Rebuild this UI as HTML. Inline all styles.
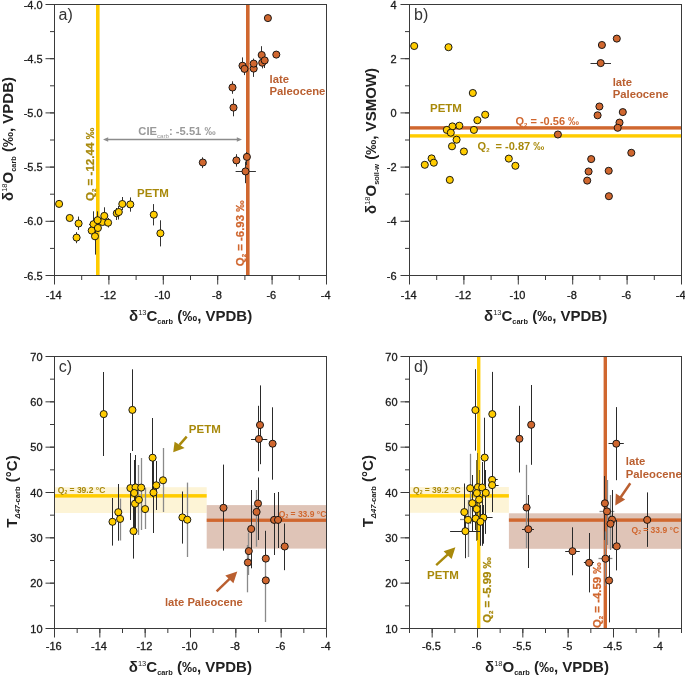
<!DOCTYPE html>
<html><head><meta charset="utf-8"><title>Figure</title>
<style>html,body{margin:0;padding:0;background:#fff;width:685px;height:676px;overflow:hidden;position:relative;font-family:"Liberation Sans", sans-serif;}</style>
</head><body>
<svg width="685" height="676" viewBox="0 0 685 676" style="position:absolute;left:0;top:0;will-change:transform" font-family='"Liberation Sans", sans-serif'>
<rect x="0.00" y="0.00" width="685.00" height="676.00" fill="#ffffff"/>
<rect x="96.00" y="4.30" width="3.60" height="271.20" fill="#FFCC00"/>
<rect x="246.00" y="4.30" width="3.60" height="271.20" fill="#D0672F"/>
<line x1="107.00" y1="139.50" x2="238.00" y2="139.50" stroke="#8c8c8c" stroke-width="1.5"/>
<path d="M103,139.5 L108.2,137.2 L108.2,141.8 Z" fill="#8c8c8c"/>
<path d="M242,139.5 L236.8,137.2 L236.8,141.8 Z" fill="#8c8c8c"/>
<text x="138.30" y="134.70" font-size="11.2" text-anchor="start" font-weight="bold" fill="#999999" >CIE<tspan font-size="6.2" font-weight="normal" dy="3">carb</tspan><tspan dy="-3">: -5.51 ‰</tspan></text>
<line x1="78.50" y1="216.60" x2="78.50" y2="229.90" stroke="#333" stroke-width="1"/>
<line x1="76.50" y1="232.10" x2="76.50" y2="243.20" stroke="#333" stroke-width="1"/>
<line x1="93.50" y1="211.30" x2="93.50" y2="230.00" stroke="#333" stroke-width="1"/>
<line x1="89.00" y1="224.50" x2="96.00" y2="224.50" stroke="#333" stroke-width="1"/>
<line x1="97.50" y1="211.30" x2="97.50" y2="226.00" stroke="#333" stroke-width="1"/>
<line x1="104.50" y1="207.30" x2="104.50" y2="222.00" stroke="#333" stroke-width="1"/>
<line x1="108.50" y1="218.00" x2="108.50" y2="227.50" stroke="#333" stroke-width="1"/>
<line x1="95.50" y1="230.00" x2="95.50" y2="254.60" stroke="#333" stroke-width="1"/>
<line x1="116.50" y1="208.00" x2="116.50" y2="220.00" stroke="#333" stroke-width="1"/>
<line x1="118.50" y1="206.00" x2="118.50" y2="219.50" stroke="#333" stroke-width="1"/>
<line x1="122.50" y1="197.00" x2="122.50" y2="210.00" stroke="#333" stroke-width="1"/>
<line x1="130.50" y1="197.40" x2="130.50" y2="211.70" stroke="#333" stroke-width="1"/>
<line x1="153.50" y1="204.10" x2="153.50" y2="225.40" stroke="#333" stroke-width="1"/>
<line x1="160.50" y1="220.30" x2="160.50" y2="246.40" stroke="#333" stroke-width="1"/>
<line x1="261.50" y1="46.20" x2="261.50" y2="60.00" stroke="#333" stroke-width="1"/>
<line x1="262.50" y1="57.00" x2="262.50" y2="68.40" stroke="#333" stroke-width="1"/>
<line x1="264.50" y1="55.00" x2="264.50" y2="68.00" stroke="#333" stroke-width="1"/>
<line x1="253.50" y1="63.00" x2="253.50" y2="76.90" stroke="#333" stroke-width="1"/>
<line x1="253.50" y1="58.60" x2="253.50" y2="68.00" stroke="#333" stroke-width="1"/>
<line x1="242.50" y1="57.40" x2="242.50" y2="70.00" stroke="#333" stroke-width="1"/>
<line x1="244.50" y1="64.00" x2="244.50" y2="75.10" stroke="#333" stroke-width="1"/>
<line x1="232.50" y1="81.30" x2="232.50" y2="93.80" stroke="#333" stroke-width="1"/>
<line x1="233.50" y1="98.70" x2="233.50" y2="116.30" stroke="#333" stroke-width="1"/>
<line x1="202.50" y1="157.30" x2="202.50" y2="168.10" stroke="#333" stroke-width="1"/>
<line x1="236.50" y1="154.20" x2="236.50" y2="166.60" stroke="#333" stroke-width="1"/>
<line x1="246.50" y1="152.00" x2="246.50" y2="165.00" stroke="#333" stroke-width="1"/>
<line x1="245.50" y1="161.50" x2="245.50" y2="183.20" stroke="#333" stroke-width="1"/>
<line x1="235.60" y1="171.50" x2="255.90" y2="171.50" stroke="#333" stroke-width="1"/>
<circle cx="59.10" cy="203.90" r="3.55" fill="#FFCC00" stroke="#111" stroke-width="0.95"/>
<circle cx="69.70" cy="218.00" r="3.55" fill="#FFCC00" stroke="#111" stroke-width="0.95"/>
<circle cx="78.60" cy="223.50" r="3.55" fill="#FFCC00" stroke="#111" stroke-width="0.95"/>
<circle cx="76.60" cy="237.60" r="3.55" fill="#FFCC00" stroke="#111" stroke-width="0.95"/>
<circle cx="102.50" cy="222.00" r="3.55" fill="#FFCC00" stroke="#111" stroke-width="0.95"/>
<circle cx="93.50" cy="224.20" r="3.55" fill="#FFCC00" stroke="#111" stroke-width="0.95"/>
<circle cx="97.60" cy="220.20" r="3.55" fill="#FFCC00" stroke="#111" stroke-width="0.95"/>
<circle cx="104.30" cy="215.90" r="3.55" fill="#FFCC00" stroke="#111" stroke-width="0.95"/>
<circle cx="108.10" cy="222.70" r="3.55" fill="#FFCC00" stroke="#111" stroke-width="0.95"/>
<circle cx="91.70" cy="230.60" r="3.55" fill="#FFCC00" stroke="#111" stroke-width="0.95"/>
<circle cx="97.90" cy="228.00" r="3.55" fill="#FFCC00" stroke="#111" stroke-width="0.95"/>
<circle cx="95.00" cy="236.30" r="3.55" fill="#FFCC00" stroke="#111" stroke-width="0.95"/>
<circle cx="116.80" cy="213.30" r="3.55" fill="#FFCC00" stroke="#111" stroke-width="0.95"/>
<circle cx="118.80" cy="212.00" r="3.55" fill="#FFCC00" stroke="#111" stroke-width="0.95"/>
<circle cx="122.30" cy="204.00" r="3.55" fill="#FFCC00" stroke="#111" stroke-width="0.95"/>
<circle cx="130.30" cy="204.40" r="3.55" fill="#FFCC00" stroke="#111" stroke-width="0.95"/>
<circle cx="153.80" cy="214.70" r="3.55" fill="#FFCC00" stroke="#111" stroke-width="0.95"/>
<circle cx="160.40" cy="233.30" r="3.55" fill="#FFCC00" stroke="#111" stroke-width="0.95"/>
<circle cx="267.90" cy="18.10" r="3.55" fill="#D0672F" stroke="#111" stroke-width="0.95"/>
<circle cx="276.30" cy="54.60" r="3.55" fill="#D0672F" stroke="#111" stroke-width="0.95"/>
<circle cx="261.70" cy="55.00" r="3.55" fill="#D0672F" stroke="#111" stroke-width="0.95"/>
<circle cx="262.20" cy="62.70" r="3.55" fill="#D0672F" stroke="#111" stroke-width="0.95"/>
<circle cx="264.70" cy="60.40" r="3.55" fill="#D0672F" stroke="#111" stroke-width="0.95"/>
<circle cx="253.70" cy="68.60" r="3.55" fill="#D0672F" stroke="#111" stroke-width="0.95"/>
<circle cx="253.70" cy="63.60" r="3.55" fill="#D0672F" stroke="#111" stroke-width="0.95"/>
<circle cx="242.50" cy="65.70" r="3.55" fill="#D0672F" stroke="#111" stroke-width="0.95"/>
<circle cx="244.50" cy="68.90" r="3.55" fill="#D0672F" stroke="#111" stroke-width="0.95"/>
<circle cx="232.50" cy="87.50" r="3.55" fill="#D0672F" stroke="#111" stroke-width="0.95"/>
<circle cx="233.50" cy="107.60" r="3.55" fill="#D0672F" stroke="#111" stroke-width="0.95"/>
<circle cx="202.80" cy="162.50" r="3.55" fill="#D0672F" stroke="#111" stroke-width="0.95"/>
<circle cx="236.40" cy="160.40" r="3.55" fill="#D0672F" stroke="#111" stroke-width="0.95"/>
<circle cx="246.90" cy="156.90" r="3.55" fill="#D0672F" stroke="#111" stroke-width="0.95"/>
<circle cx="245.50" cy="171.40" r="3.55" fill="#D0672F" stroke="#111" stroke-width="0.95"/>
<text x="137.00" y="197.20" font-size="11.5" text-anchor="start" font-weight="bold" fill="#A8890B" >PETM</text>
<text x="269.50" y="82.80" font-size="11.3" text-anchor="start" font-weight="bold" fill="#BA5F30" >late</text>
<text x="269.50" y="95.20" font-size="11.3" text-anchor="start" font-weight="bold" fill="#BA5F30" >Paleocene</text>
<text transform="translate(93.6,164.4) rotate(-90)" font-size="11.6" font-weight="bold" text-anchor="middle" fill="#A8890B" stroke="#A8890B" stroke-width="0.25">Q<tspan font-size="6" dy="2">2</tspan><tspan dy="-2"> = -12.44 ‰</tspan></text>
<text transform="translate(244.3,233.3) rotate(-90)" font-size="11.4" font-weight="bold" text-anchor="middle" fill="#D0672F" stroke="#D0672F" stroke-width="0.25">Q<tspan font-size="6" dy="2">2</tspan><tspan dy="-2"> = -6.93 ‰</tspan></text>
<rect x="54.50" y="4.50" width="272.00" height="271.00" fill="none" stroke="#3a3a3a" stroke-width="1"/>
<line x1="54.50" y1="275.50" x2="54.50" y2="280.00" stroke="#3a3a3a" stroke-width="1"/>
<line x1="81.70" y1="275.50" x2="81.70" y2="280.00" stroke="#3a3a3a" stroke-width="1"/>
<line x1="108.90" y1="275.50" x2="108.90" y2="280.00" stroke="#3a3a3a" stroke-width="1"/>
<line x1="136.10" y1="275.50" x2="136.10" y2="280.00" stroke="#3a3a3a" stroke-width="1"/>
<line x1="163.30" y1="275.50" x2="163.30" y2="280.00" stroke="#3a3a3a" stroke-width="1"/>
<line x1="190.50" y1="275.50" x2="190.50" y2="280.00" stroke="#3a3a3a" stroke-width="1"/>
<line x1="217.70" y1="275.50" x2="217.70" y2="280.00" stroke="#3a3a3a" stroke-width="1"/>
<line x1="244.90" y1="275.50" x2="244.90" y2="280.00" stroke="#3a3a3a" stroke-width="1"/>
<line x1="272.10" y1="275.50" x2="272.10" y2="280.00" stroke="#3a3a3a" stroke-width="1"/>
<line x1="299.30" y1="275.50" x2="299.30" y2="280.00" stroke="#3a3a3a" stroke-width="1"/>
<line x1="326.50" y1="275.50" x2="326.50" y2="280.00" stroke="#3a3a3a" stroke-width="1"/>
<line x1="54.50" y1="275.50" x2="54.50" y2="284.50" stroke="#3a3a3a" stroke-width="1"/>
<text x="53.70" y="298.90" font-size="11" text-anchor="middle" fill="#1a1a1a" stroke="#1a1a1a" stroke-width="0.3">-14</text>
<line x1="108.90" y1="275.50" x2="108.90" y2="284.50" stroke="#3a3a3a" stroke-width="1"/>
<text x="108.10" y="298.90" font-size="11" text-anchor="middle" fill="#1a1a1a" stroke="#1a1a1a" stroke-width="0.3">-12</text>
<line x1="163.30" y1="275.50" x2="163.30" y2="284.50" stroke="#3a3a3a" stroke-width="1"/>
<text x="162.50" y="298.90" font-size="11" text-anchor="middle" fill="#1a1a1a" stroke="#1a1a1a" stroke-width="0.3">-10</text>
<line x1="217.70" y1="275.50" x2="217.70" y2="284.50" stroke="#3a3a3a" stroke-width="1"/>
<text x="216.90" y="298.90" font-size="11" text-anchor="middle" fill="#1a1a1a" stroke="#1a1a1a" stroke-width="0.3">-8</text>
<line x1="272.10" y1="275.50" x2="272.10" y2="284.50" stroke="#3a3a3a" stroke-width="1"/>
<text x="271.30" y="298.90" font-size="11" text-anchor="middle" fill="#1a1a1a" stroke="#1a1a1a" stroke-width="0.3">-6</text>
<line x1="326.50" y1="275.50" x2="326.50" y2="284.50" stroke="#3a3a3a" stroke-width="1"/>
<text x="325.70" y="298.90" font-size="11" text-anchor="middle" fill="#1a1a1a" stroke="#1a1a1a" stroke-width="0.3">-4</text>
<line x1="50.00" y1="4.50" x2="54.50" y2="4.50" stroke="#3a3a3a" stroke-width="1"/>
<line x1="50.00" y1="31.60" x2="54.50" y2="31.60" stroke="#3a3a3a" stroke-width="1"/>
<line x1="50.00" y1="58.70" x2="54.50" y2="58.70" stroke="#3a3a3a" stroke-width="1"/>
<line x1="50.00" y1="85.80" x2="54.50" y2="85.80" stroke="#3a3a3a" stroke-width="1"/>
<line x1="50.00" y1="112.90" x2="54.50" y2="112.90" stroke="#3a3a3a" stroke-width="1"/>
<line x1="50.00" y1="140.00" x2="54.50" y2="140.00" stroke="#3a3a3a" stroke-width="1"/>
<line x1="50.00" y1="167.10" x2="54.50" y2="167.10" stroke="#3a3a3a" stroke-width="1"/>
<line x1="50.00" y1="194.20" x2="54.50" y2="194.20" stroke="#3a3a3a" stroke-width="1"/>
<line x1="50.00" y1="221.30" x2="54.50" y2="221.30" stroke="#3a3a3a" stroke-width="1"/>
<line x1="50.00" y1="248.40" x2="54.50" y2="248.40" stroke="#3a3a3a" stroke-width="1"/>
<line x1="50.00" y1="275.50" x2="54.50" y2="275.50" stroke="#3a3a3a" stroke-width="1"/>
<line x1="45.50" y1="4.50" x2="54.50" y2="4.50" stroke="#3a3a3a" stroke-width="1"/>
<text x="42.60" y="8.60" font-size="11" text-anchor="end" fill="#1a1a1a" stroke="#1a1a1a" stroke-width="0.3">-4.0</text>
<line x1="45.50" y1="58.70" x2="54.50" y2="58.70" stroke="#3a3a3a" stroke-width="1"/>
<text x="42.60" y="62.80" font-size="11" text-anchor="end" fill="#1a1a1a" stroke="#1a1a1a" stroke-width="0.3">-4.5</text>
<line x1="45.50" y1="112.90" x2="54.50" y2="112.90" stroke="#3a3a3a" stroke-width="1"/>
<text x="42.60" y="117.00" font-size="11" text-anchor="end" fill="#1a1a1a" stroke="#1a1a1a" stroke-width="0.3">-5.0</text>
<line x1="45.50" y1="167.10" x2="54.50" y2="167.10" stroke="#3a3a3a" stroke-width="1"/>
<text x="42.60" y="171.20" font-size="11" text-anchor="end" fill="#1a1a1a" stroke="#1a1a1a" stroke-width="0.3">-5.5</text>
<line x1="45.50" y1="221.30" x2="54.50" y2="221.30" stroke="#3a3a3a" stroke-width="1"/>
<text x="42.60" y="225.40" font-size="11" text-anchor="end" fill="#1a1a1a" stroke="#1a1a1a" stroke-width="0.3">-6.0</text>
<line x1="45.50" y1="275.50" x2="54.50" y2="275.50" stroke="#3a3a3a" stroke-width="1"/>
<text x="42.60" y="279.60" font-size="11" text-anchor="end" fill="#1a1a1a" stroke="#1a1a1a" stroke-width="0.3">-6.5</text>
<text x="58.50" y="19.80" font-size="16" text-anchor="start" font-weight="normal" fill="#333" >a)</text>
<text transform="translate(13.30,139.00) rotate(-90)" font-size="15" font-weight="bold" text-anchor="middle" fill="#222"><tspan dy="0">δ</tspan><tspan font-size="7.5" font-weight="normal" dy="-6.2">18</tspan><tspan dy="6.2">O</tspan><tspan font-size="7.4" dy="3.0">carb</tspan><tspan dy="-3.0"> (‰, VPDB)</tspan></text>
<text x="190.60" y="320.80" font-size="15" font-weight="bold" text-anchor="middle" fill="#222"><tspan dy="0">δ</tspan><tspan font-size="7.5" font-weight="normal" dy="-6.2">13</tspan><tspan dy="6.2">C</tspan><tspan font-size="7.4" dy="3.0">carb</tspan><tspan dy="-3.0"> (‰, VPDB)</tspan></text>
<rect x="409.70" y="126.20" width="271.70" height="3.40" fill="#D0672F"/>
<rect x="409.70" y="134.20" width="271.70" height="3.40" fill="#FFCC00"/>
<line x1="590.50" y1="63.50" x2="611.00" y2="63.50" stroke="#333" stroke-width="1"/>
<line x1="588.00" y1="159.50" x2="594.50" y2="159.50" stroke="#333" stroke-width="1"/>
<circle cx="414.20" cy="46.00" r="3.55" fill="#FFCC00" stroke="#111" stroke-width="0.95"/>
<circle cx="448.50" cy="47.20" r="3.55" fill="#FFCC00" stroke="#111" stroke-width="0.95"/>
<circle cx="472.80" cy="93.00" r="3.55" fill="#FFCC00" stroke="#111" stroke-width="0.95"/>
<circle cx="485.20" cy="114.70" r="3.55" fill="#FFCC00" stroke="#111" stroke-width="0.95"/>
<circle cx="477.40" cy="120.20" r="3.55" fill="#FFCC00" stroke="#111" stroke-width="0.95"/>
<circle cx="459.30" cy="125.70" r="3.55" fill="#FFCC00" stroke="#111" stroke-width="0.95"/>
<circle cx="452.40" cy="126.40" r="3.55" fill="#FFCC00" stroke="#111" stroke-width="0.95"/>
<circle cx="446.80" cy="129.90" r="3.55" fill="#FFCC00" stroke="#111" stroke-width="0.95"/>
<circle cx="450.80" cy="132.70" r="3.55" fill="#FFCC00" stroke="#111" stroke-width="0.95"/>
<circle cx="473.90" cy="129.90" r="3.55" fill="#FFCC00" stroke="#111" stroke-width="0.95"/>
<circle cx="456.60" cy="139.70" r="3.55" fill="#FFCC00" stroke="#111" stroke-width="0.95"/>
<circle cx="452.00" cy="146.30" r="3.55" fill="#FFCC00" stroke="#111" stroke-width="0.95"/>
<circle cx="463.90" cy="151.50" r="3.55" fill="#FFCC00" stroke="#111" stroke-width="0.95"/>
<circle cx="431.60" cy="158.40" r="3.55" fill="#FFCC00" stroke="#111" stroke-width="0.95"/>
<circle cx="433.80" cy="162.70" r="3.55" fill="#FFCC00" stroke="#111" stroke-width="0.95"/>
<circle cx="424.80" cy="164.80" r="3.55" fill="#FFCC00" stroke="#111" stroke-width="0.95"/>
<circle cx="449.80" cy="179.90" r="3.55" fill="#FFCC00" stroke="#111" stroke-width="0.95"/>
<circle cx="508.80" cy="158.60" r="3.55" fill="#FFCC00" stroke="#111" stroke-width="0.95"/>
<circle cx="515.40" cy="165.80" r="3.55" fill="#FFCC00" stroke="#111" stroke-width="0.95"/>
<circle cx="616.80" cy="38.60" r="3.55" fill="#D0672F" stroke="#111" stroke-width="0.95"/>
<circle cx="601.90" cy="45.00" r="3.55" fill="#D0672F" stroke="#111" stroke-width="0.95"/>
<circle cx="600.70" cy="63.10" r="3.55" fill="#D0672F" stroke="#111" stroke-width="0.95"/>
<circle cx="599.40" cy="106.50" r="3.55" fill="#D0672F" stroke="#111" stroke-width="0.95"/>
<circle cx="597.60" cy="115.30" r="3.55" fill="#D0672F" stroke="#111" stroke-width="0.95"/>
<circle cx="622.80" cy="112.10" r="3.55" fill="#D0672F" stroke="#111" stroke-width="0.95"/>
<circle cx="619.50" cy="122.60" r="3.55" fill="#D0672F" stroke="#111" stroke-width="0.95"/>
<circle cx="617.70" cy="127.80" r="3.55" fill="#D0672F" stroke="#111" stroke-width="0.95"/>
<circle cx="557.90" cy="134.50" r="3.55" fill="#D0672F" stroke="#111" stroke-width="0.95"/>
<circle cx="631.30" cy="152.80" r="3.55" fill="#D0672F" stroke="#111" stroke-width="0.95"/>
<circle cx="591.20" cy="159.10" r="3.55" fill="#D0672F" stroke="#111" stroke-width="0.95"/>
<circle cx="588.60" cy="171.50" r="3.55" fill="#D0672F" stroke="#111" stroke-width="0.95"/>
<circle cx="587.20" cy="180.60" r="3.55" fill="#D0672F" stroke="#111" stroke-width="0.95"/>
<circle cx="608.70" cy="170.80" r="3.55" fill="#D0672F" stroke="#111" stroke-width="0.95"/>
<circle cx="608.90" cy="196.20" r="3.55" fill="#D0672F" stroke="#111" stroke-width="0.95"/>
<text x="430.00" y="112.00" font-size="11.5" text-anchor="start" font-weight="bold" fill="#A8890B" >PETM</text>
<text x="612.70" y="86.00" font-size="11.3" text-anchor="start" font-weight="bold" fill="#BA5F30" >late</text>
<text x="612.70" y="98.10" font-size="11.3" text-anchor="start" font-weight="bold" fill="#BA5F30" >Paleocene</text>
<text x="515.50" y="125.00" font-size="11" text-anchor="start" font-weight="bold" fill="#D0672F" >Q<tspan font-size="6" dy="2">2</tspan><tspan dy="-2"> = -0.56 ‰</tspan></text>
<text x="477.60" y="149.80" font-size="11" text-anchor="start" font-weight="bold" fill="#A8890B" >Q<tspan font-size="6" dy="2">2</tspan><tspan dy="-2">&#160; = -0.87 ‰</tspan></text>
<rect x="409.50" y="4.50" width="272.00" height="271.00" fill="none" stroke="#3a3a3a" stroke-width="1"/>
<line x1="409.50" y1="275.50" x2="409.50" y2="280.00" stroke="#3a3a3a" stroke-width="1"/>
<line x1="436.70" y1="275.50" x2="436.70" y2="280.00" stroke="#3a3a3a" stroke-width="1"/>
<line x1="463.90" y1="275.50" x2="463.90" y2="280.00" stroke="#3a3a3a" stroke-width="1"/>
<line x1="491.10" y1="275.50" x2="491.10" y2="280.00" stroke="#3a3a3a" stroke-width="1"/>
<line x1="518.30" y1="275.50" x2="518.30" y2="280.00" stroke="#3a3a3a" stroke-width="1"/>
<line x1="545.50" y1="275.50" x2="545.50" y2="280.00" stroke="#3a3a3a" stroke-width="1"/>
<line x1="572.70" y1="275.50" x2="572.70" y2="280.00" stroke="#3a3a3a" stroke-width="1"/>
<line x1="599.90" y1="275.50" x2="599.90" y2="280.00" stroke="#3a3a3a" stroke-width="1"/>
<line x1="627.10" y1="275.50" x2="627.10" y2="280.00" stroke="#3a3a3a" stroke-width="1"/>
<line x1="654.30" y1="275.50" x2="654.30" y2="280.00" stroke="#3a3a3a" stroke-width="1"/>
<line x1="681.50" y1="275.50" x2="681.50" y2="280.00" stroke="#3a3a3a" stroke-width="1"/>
<line x1="409.50" y1="275.50" x2="409.50" y2="284.50" stroke="#3a3a3a" stroke-width="1"/>
<text x="408.70" y="298.90" font-size="11" text-anchor="middle" fill="#1a1a1a" stroke="#1a1a1a" stroke-width="0.3">-14</text>
<line x1="463.90" y1="275.50" x2="463.90" y2="284.50" stroke="#3a3a3a" stroke-width="1"/>
<text x="463.10" y="298.90" font-size="11" text-anchor="middle" fill="#1a1a1a" stroke="#1a1a1a" stroke-width="0.3">-12</text>
<line x1="518.30" y1="275.50" x2="518.30" y2="284.50" stroke="#3a3a3a" stroke-width="1"/>
<text x="517.50" y="298.90" font-size="11" text-anchor="middle" fill="#1a1a1a" stroke="#1a1a1a" stroke-width="0.3">-10</text>
<line x1="572.70" y1="275.50" x2="572.70" y2="284.50" stroke="#3a3a3a" stroke-width="1"/>
<text x="571.90" y="298.90" font-size="11" text-anchor="middle" fill="#1a1a1a" stroke="#1a1a1a" stroke-width="0.3">-8</text>
<line x1="627.10" y1="275.50" x2="627.10" y2="284.50" stroke="#3a3a3a" stroke-width="1"/>
<text x="626.30" y="298.90" font-size="11" text-anchor="middle" fill="#1a1a1a" stroke="#1a1a1a" stroke-width="0.3">-6</text>
<line x1="681.50" y1="275.50" x2="681.50" y2="284.50" stroke="#3a3a3a" stroke-width="1"/>
<text x="680.70" y="298.90" font-size="11" text-anchor="middle" fill="#1a1a1a" stroke="#1a1a1a" stroke-width="0.3">-4</text>
<line x1="405.00" y1="4.50" x2="409.50" y2="4.50" stroke="#3a3a3a" stroke-width="1"/>
<line x1="405.00" y1="31.60" x2="409.50" y2="31.60" stroke="#3a3a3a" stroke-width="1"/>
<line x1="405.00" y1="58.70" x2="409.50" y2="58.70" stroke="#3a3a3a" stroke-width="1"/>
<line x1="405.00" y1="85.80" x2="409.50" y2="85.80" stroke="#3a3a3a" stroke-width="1"/>
<line x1="405.00" y1="112.90" x2="409.50" y2="112.90" stroke="#3a3a3a" stroke-width="1"/>
<line x1="405.00" y1="140.00" x2="409.50" y2="140.00" stroke="#3a3a3a" stroke-width="1"/>
<line x1="405.00" y1="167.10" x2="409.50" y2="167.10" stroke="#3a3a3a" stroke-width="1"/>
<line x1="405.00" y1="194.20" x2="409.50" y2="194.20" stroke="#3a3a3a" stroke-width="1"/>
<line x1="405.00" y1="221.30" x2="409.50" y2="221.30" stroke="#3a3a3a" stroke-width="1"/>
<line x1="405.00" y1="248.40" x2="409.50" y2="248.40" stroke="#3a3a3a" stroke-width="1"/>
<line x1="405.00" y1="275.50" x2="409.50" y2="275.50" stroke="#3a3a3a" stroke-width="1"/>
<line x1="400.50" y1="4.50" x2="409.50" y2="4.50" stroke="#3a3a3a" stroke-width="1"/>
<text x="396.50" y="8.60" font-size="11" text-anchor="end" fill="#1a1a1a" stroke="#1a1a1a" stroke-width="0.3">4</text>
<line x1="400.50" y1="58.70" x2="409.50" y2="58.70" stroke="#3a3a3a" stroke-width="1"/>
<text x="396.50" y="62.80" font-size="11" text-anchor="end" fill="#1a1a1a" stroke="#1a1a1a" stroke-width="0.3">2</text>
<line x1="400.50" y1="112.90" x2="409.50" y2="112.90" stroke="#3a3a3a" stroke-width="1"/>
<text x="396.50" y="117.00" font-size="11" text-anchor="end" fill="#1a1a1a" stroke="#1a1a1a" stroke-width="0.3">0</text>
<line x1="400.50" y1="167.10" x2="409.50" y2="167.10" stroke="#3a3a3a" stroke-width="1"/>
<text x="396.50" y="171.20" font-size="11" text-anchor="end" fill="#1a1a1a" stroke="#1a1a1a" stroke-width="0.3">-2</text>
<line x1="400.50" y1="221.30" x2="409.50" y2="221.30" stroke="#3a3a3a" stroke-width="1"/>
<text x="396.50" y="225.40" font-size="11" text-anchor="end" fill="#1a1a1a" stroke="#1a1a1a" stroke-width="0.3">-4</text>
<line x1="400.50" y1="275.50" x2="409.50" y2="275.50" stroke="#3a3a3a" stroke-width="1"/>
<text x="396.50" y="279.60" font-size="11" text-anchor="end" fill="#1a1a1a" stroke="#1a1a1a" stroke-width="0.3">-6</text>
<text x="414.00" y="19.70" font-size="16" text-anchor="start" font-weight="normal" fill="#333" >b)</text>
<text transform="translate(375.90,141.00) rotate(-90)" font-size="15" font-weight="bold" text-anchor="middle" fill="#222"><tspan dy="0">δ</tspan><tspan font-size="7.5" font-weight="normal" dy="-6.2">18</tspan><tspan dy="6.2">O</tspan><tspan font-size="7.4" dy="3.0">soil-w</tspan><tspan dy="-3.0"> (‰, VSMOW)</tspan></text>
<text x="545.60" y="320.80" font-size="15" font-weight="bold" text-anchor="middle" fill="#222"><tspan dy="0">δ</tspan><tspan font-size="7.5" font-weight="normal" dy="-6.2">13</tspan><tspan dy="6.2">C</tspan><tspan font-size="7.4" dy="3.0">carb</tspan><tspan dy="-3.0"> (‰, VPDB)</tspan></text>
<rect x="54.50" y="487.20" width="152.20" height="25.80" fill="#FDF4D6"/>
<rect x="206.70" y="505.10" width="119.70" height="43.50" fill="#DFC4B7"/>
<rect x="54.50" y="494.10" width="152.20" height="3.50" fill="#FFCC00"/>
<rect x="206.70" y="518.60" width="119.70" height="3.30" fill="#D0672F"/>
<line x1="103.50" y1="372.00" x2="103.50" y2="456.00" stroke="#2a2a2a" stroke-width="1"/>
<line x1="132.50" y1="369.30" x2="132.50" y2="451.00" stroke="#2a2a2a" stroke-width="1"/>
<line x1="152.50" y1="418.00" x2="152.50" y2="497.00" stroke="#2a2a2a" stroke-width="1"/>
<line x1="163.50" y1="448.00" x2="163.50" y2="512.00" stroke="#8a8a8a" stroke-width="1.3"/>
<line x1="156.50" y1="461.00" x2="156.50" y2="510.00" stroke="#2a2a2a" stroke-width="1"/>
<line x1="130.50" y1="453.00" x2="130.50" y2="520.00" stroke="#2a2a2a" stroke-width="1"/>
<line x1="135.50" y1="455.00" x2="135.50" y2="525.00" stroke="#2a2a2a" stroke-width="1"/>
<line x1="141.50" y1="458.00" x2="141.50" y2="530.00" stroke="#8a8a8a" stroke-width="1.3"/>
<line x1="134.50" y1="460.00" x2="134.50" y2="530.00" stroke="#2a2a2a" stroke-width="1"/>
<line x1="135.50" y1="470.00" x2="135.50" y2="535.00" stroke="#2a2a2a" stroke-width="1"/>
<line x1="138.50" y1="465.00" x2="138.50" y2="535.00" stroke="#8a8a8a" stroke-width="1.3"/>
<line x1="145.50" y1="488.00" x2="145.50" y2="529.00" stroke="#8a8a8a" stroke-width="1.3"/>
<line x1="133.50" y1="500.00" x2="133.50" y2="558.60" stroke="#2a2a2a" stroke-width="1"/>
<line x1="153.50" y1="455.00" x2="153.50" y2="533.00" stroke="#2a2a2a" stroke-width="1"/>
<line x1="112.50" y1="498.00" x2="112.50" y2="545.60" stroke="#2a2a2a" stroke-width="1"/>
<line x1="118.50" y1="484.00" x2="118.50" y2="540.70" stroke="#2a2a2a" stroke-width="1"/>
<line x1="120.50" y1="498.60" x2="120.50" y2="540.50" stroke="#8a8a8a" stroke-width="1.3"/>
<line x1="182.50" y1="491.50" x2="182.50" y2="543.60" stroke="#2a2a2a" stroke-width="1"/>
<line x1="187.50" y1="482.60" x2="187.50" y2="557.00" stroke="#8a8a8a" stroke-width="1.3"/>
<line x1="260.50" y1="385.40" x2="260.50" y2="464.20" stroke="#2a2a2a" stroke-width="1"/>
<line x1="258.50" y1="405.80" x2="258.50" y2="471.20" stroke="#2a2a2a" stroke-width="1"/>
<line x1="251.00" y1="439.50" x2="267.30" y2="439.50" stroke="#2a2a2a" stroke-width="1"/>
<line x1="272.50" y1="407.30" x2="272.50" y2="479.70" stroke="#2a2a2a" stroke-width="1"/>
<line x1="223.50" y1="464.60" x2="223.50" y2="550.60" stroke="#2a2a2a" stroke-width="1"/>
<line x1="258.50" y1="477.50" x2="258.50" y2="540.00" stroke="#2a2a2a" stroke-width="1"/>
<line x1="256.50" y1="490.00" x2="256.50" y2="546.70" stroke="#8a8a8a" stroke-width="1.3"/>
<line x1="274.50" y1="493.00" x2="274.50" y2="555.00" stroke="#2a2a2a" stroke-width="1"/>
<line x1="278.50" y1="492.00" x2="278.50" y2="548.00" stroke="#2a2a2a" stroke-width="1"/>
<line x1="251.50" y1="490.00" x2="251.50" y2="568.30" stroke="#2a2a2a" stroke-width="1"/>
<line x1="248.50" y1="532.70" x2="248.50" y2="575.00" stroke="#8a8a8a" stroke-width="1.3"/>
<line x1="247.50" y1="545.00" x2="247.50" y2="592.30" stroke="#8a8a8a" stroke-width="1.3"/>
<line x1="265.50" y1="530.80" x2="265.50" y2="585.00" stroke="#2a2a2a" stroke-width="1"/>
<line x1="265.50" y1="560.00" x2="265.50" y2="622.00" stroke="#8a8a8a" stroke-width="1.3"/>
<line x1="284.50" y1="523.50" x2="284.50" y2="570.20" stroke="#2a2a2a" stroke-width="1"/>
<circle cx="103.70" cy="414.10" r="3.55" fill="#FFCC00" stroke="#111" stroke-width="0.95"/>
<circle cx="132.40" cy="409.90" r="3.55" fill="#FFCC00" stroke="#111" stroke-width="0.95"/>
<circle cx="152.60" cy="457.70" r="3.55" fill="#FFCC00" stroke="#111" stroke-width="0.95"/>
<circle cx="163.00" cy="480.30" r="3.55" fill="#FFCC00" stroke="#111" stroke-width="0.95"/>
<circle cx="156.30" cy="485.30" r="3.55" fill="#FFCC00" stroke="#111" stroke-width="0.95"/>
<circle cx="130.40" cy="488.10" r="3.55" fill="#FFCC00" stroke="#111" stroke-width="0.95"/>
<circle cx="135.50" cy="487.40" r="3.55" fill="#FFCC00" stroke="#111" stroke-width="0.95"/>
<circle cx="141.20" cy="487.60" r="3.55" fill="#FFCC00" stroke="#111" stroke-width="0.95"/>
<circle cx="134.20" cy="493.00" r="3.55" fill="#FFCC00" stroke="#111" stroke-width="0.95"/>
<circle cx="135.00" cy="503.70" r="3.55" fill="#FFCC00" stroke="#111" stroke-width="0.95"/>
<circle cx="138.90" cy="499.80" r="3.55" fill="#FFCC00" stroke="#111" stroke-width="0.95"/>
<circle cx="145.10" cy="509.10" r="3.55" fill="#FFCC00" stroke="#111" stroke-width="0.95"/>
<circle cx="133.50" cy="531.10" r="3.55" fill="#FFCC00" stroke="#111" stroke-width="0.95"/>
<circle cx="153.50" cy="492.60" r="3.55" fill="#FFCC00" stroke="#111" stroke-width="0.95"/>
<circle cx="112.50" cy="521.80" r="3.55" fill="#FFCC00" stroke="#111" stroke-width="0.95"/>
<circle cx="118.30" cy="512.20" r="3.55" fill="#FFCC00" stroke="#111" stroke-width="0.95"/>
<circle cx="120.10" cy="518.90" r="3.55" fill="#FFCC00" stroke="#111" stroke-width="0.95"/>
<circle cx="182.40" cy="517.40" r="3.55" fill="#FFCC00" stroke="#111" stroke-width="0.95"/>
<circle cx="187.30" cy="519.70" r="3.55" fill="#FFCC00" stroke="#111" stroke-width="0.95"/>
<circle cx="260.00" cy="425.00" r="3.55" fill="#D0672F" stroke="#111" stroke-width="0.95"/>
<circle cx="258.90" cy="439.00" r="3.55" fill="#D0672F" stroke="#111" stroke-width="0.95"/>
<circle cx="272.60" cy="443.70" r="3.55" fill="#D0672F" stroke="#111" stroke-width="0.95"/>
<circle cx="223.50" cy="507.80" r="3.55" fill="#D0672F" stroke="#111" stroke-width="0.95"/>
<circle cx="258.00" cy="503.50" r="3.55" fill="#D0672F" stroke="#111" stroke-width="0.95"/>
<circle cx="256.60" cy="511.90" r="3.55" fill="#D0672F" stroke="#111" stroke-width="0.95"/>
<circle cx="274.10" cy="519.90" r="3.55" fill="#D0672F" stroke="#111" stroke-width="0.95"/>
<circle cx="278.00" cy="519.90" r="3.55" fill="#D0672F" stroke="#111" stroke-width="0.95"/>
<circle cx="251.20" cy="529.00" r="3.55" fill="#D0672F" stroke="#111" stroke-width="0.95"/>
<circle cx="248.80" cy="551.10" r="3.55" fill="#D0672F" stroke="#111" stroke-width="0.95"/>
<circle cx="247.90" cy="562.50" r="3.55" fill="#D0672F" stroke="#111" stroke-width="0.95"/>
<circle cx="265.80" cy="558.60" r="3.55" fill="#D0672F" stroke="#111" stroke-width="0.95"/>
<circle cx="265.80" cy="580.40" r="3.55" fill="#D0672F" stroke="#111" stroke-width="0.95"/>
<circle cx="284.70" cy="546.50" r="3.55" fill="#D0672F" stroke="#111" stroke-width="0.95"/>
<text x="57.80" y="492.50" font-size="8.5" text-anchor="start" font-weight="bold" fill="#A8890B" >Q<tspan font-size="5" dy="1.5">2</tspan><tspan dy="-1.5"> = 39.2 °C</tspan></text>
<text x="278.80" y="516.90" font-size="8.5" text-anchor="start" font-weight="bold" fill="#D0672F" >Q<tspan font-size="5" dy="1.5">2</tspan><tspan dy="-1.5"> = 33.9 °C</tspan></text>
<text x="188.80" y="433.30" font-size="11.5" text-anchor="start" font-weight="bold" fill="#A8890B" >PETM</text>
<line x1="186.70" y1="436.60" x2="179.50" y2="444.90" stroke="#A8890B" stroke-width="2.4"/>
<path d="M173.2,452.2 L174.6,441.8 L184.6,448.0 Z" fill="#A8890B"/>
<text x="165.00" y="605.50" font-size="11.2" text-anchor="start" font-weight="bold" fill="#BA5F30" >late Paleocene</text>
<line x1="216.60" y1="591.40" x2="230.60" y2="577.80" stroke="#BA5F30" stroke-width="2.4"/>
<path d="M237.3,571.5 L225.3,575.4 L233.4,583.2 Z" fill="#BA5F30"/>
<rect x="54.50" y="356.50" width="272.00" height="272.00" fill="none" stroke="#3a3a3a" stroke-width="1"/>
<line x1="54.50" y1="628.50" x2="54.50" y2="633.00" stroke="#3a3a3a" stroke-width="1"/>
<line x1="77.17" y1="628.50" x2="77.17" y2="633.00" stroke="#3a3a3a" stroke-width="1"/>
<line x1="99.83" y1="628.50" x2="99.83" y2="633.00" stroke="#3a3a3a" stroke-width="1"/>
<line x1="122.50" y1="628.50" x2="122.50" y2="633.00" stroke="#3a3a3a" stroke-width="1"/>
<line x1="145.17" y1="628.50" x2="145.17" y2="633.00" stroke="#3a3a3a" stroke-width="1"/>
<line x1="167.83" y1="628.50" x2="167.83" y2="633.00" stroke="#3a3a3a" stroke-width="1"/>
<line x1="190.50" y1="628.50" x2="190.50" y2="633.00" stroke="#3a3a3a" stroke-width="1"/>
<line x1="213.17" y1="628.50" x2="213.17" y2="633.00" stroke="#3a3a3a" stroke-width="1"/>
<line x1="235.83" y1="628.50" x2="235.83" y2="633.00" stroke="#3a3a3a" stroke-width="1"/>
<line x1="258.50" y1="628.50" x2="258.50" y2="633.00" stroke="#3a3a3a" stroke-width="1"/>
<line x1="281.17" y1="628.50" x2="281.17" y2="633.00" stroke="#3a3a3a" stroke-width="1"/>
<line x1="303.83" y1="628.50" x2="303.83" y2="633.00" stroke="#3a3a3a" stroke-width="1"/>
<line x1="326.50" y1="628.50" x2="326.50" y2="633.00" stroke="#3a3a3a" stroke-width="1"/>
<line x1="54.50" y1="628.50" x2="54.50" y2="637.50" stroke="#3a3a3a" stroke-width="1"/>
<text x="53.70" y="649.90" font-size="11" text-anchor="middle" fill="#1a1a1a" stroke="#1a1a1a" stroke-width="0.3">-16</text>
<line x1="99.83" y1="628.50" x2="99.83" y2="637.50" stroke="#3a3a3a" stroke-width="1"/>
<text x="99.03" y="649.90" font-size="11" text-anchor="middle" fill="#1a1a1a" stroke="#1a1a1a" stroke-width="0.3">-14</text>
<line x1="145.17" y1="628.50" x2="145.17" y2="637.50" stroke="#3a3a3a" stroke-width="1"/>
<text x="144.37" y="649.90" font-size="11" text-anchor="middle" fill="#1a1a1a" stroke="#1a1a1a" stroke-width="0.3">-12</text>
<line x1="190.50" y1="628.50" x2="190.50" y2="637.50" stroke="#3a3a3a" stroke-width="1"/>
<text x="189.70" y="649.90" font-size="11" text-anchor="middle" fill="#1a1a1a" stroke="#1a1a1a" stroke-width="0.3">-10</text>
<line x1="235.83" y1="628.50" x2="235.83" y2="637.50" stroke="#3a3a3a" stroke-width="1"/>
<text x="235.03" y="649.90" font-size="11" text-anchor="middle" fill="#1a1a1a" stroke="#1a1a1a" stroke-width="0.3">-8</text>
<line x1="281.17" y1="628.50" x2="281.17" y2="637.50" stroke="#3a3a3a" stroke-width="1"/>
<text x="280.37" y="649.90" font-size="11" text-anchor="middle" fill="#1a1a1a" stroke="#1a1a1a" stroke-width="0.3">-6</text>
<line x1="326.50" y1="628.50" x2="326.50" y2="637.50" stroke="#3a3a3a" stroke-width="1"/>
<text x="325.70" y="649.90" font-size="11" text-anchor="middle" fill="#1a1a1a" stroke="#1a1a1a" stroke-width="0.3">-4</text>
<line x1="50.00" y1="356.50" x2="54.50" y2="356.50" stroke="#3a3a3a" stroke-width="1"/>
<line x1="50.00" y1="379.17" x2="54.50" y2="379.17" stroke="#3a3a3a" stroke-width="1"/>
<line x1="50.00" y1="401.83" x2="54.50" y2="401.83" stroke="#3a3a3a" stroke-width="1"/>
<line x1="50.00" y1="424.50" x2="54.50" y2="424.50" stroke="#3a3a3a" stroke-width="1"/>
<line x1="50.00" y1="447.17" x2="54.50" y2="447.17" stroke="#3a3a3a" stroke-width="1"/>
<line x1="50.00" y1="469.83" x2="54.50" y2="469.83" stroke="#3a3a3a" stroke-width="1"/>
<line x1="50.00" y1="492.50" x2="54.50" y2="492.50" stroke="#3a3a3a" stroke-width="1"/>
<line x1="50.00" y1="515.17" x2="54.50" y2="515.17" stroke="#3a3a3a" stroke-width="1"/>
<line x1="50.00" y1="537.83" x2="54.50" y2="537.83" stroke="#3a3a3a" stroke-width="1"/>
<line x1="50.00" y1="560.50" x2="54.50" y2="560.50" stroke="#3a3a3a" stroke-width="1"/>
<line x1="50.00" y1="583.17" x2="54.50" y2="583.17" stroke="#3a3a3a" stroke-width="1"/>
<line x1="50.00" y1="605.83" x2="54.50" y2="605.83" stroke="#3a3a3a" stroke-width="1"/>
<line x1="50.00" y1="628.50" x2="54.50" y2="628.50" stroke="#3a3a3a" stroke-width="1"/>
<line x1="45.50" y1="356.50" x2="54.50" y2="356.50" stroke="#3a3a3a" stroke-width="1"/>
<text x="42.60" y="360.60" font-size="11" text-anchor="end" fill="#1a1a1a" stroke="#1a1a1a" stroke-width="0.3">70</text>
<line x1="45.50" y1="401.83" x2="54.50" y2="401.83" stroke="#3a3a3a" stroke-width="1"/>
<text x="42.60" y="405.93" font-size="11" text-anchor="end" fill="#1a1a1a" stroke="#1a1a1a" stroke-width="0.3">60</text>
<line x1="45.50" y1="447.17" x2="54.50" y2="447.17" stroke="#3a3a3a" stroke-width="1"/>
<text x="42.60" y="451.27" font-size="11" text-anchor="end" fill="#1a1a1a" stroke="#1a1a1a" stroke-width="0.3">50</text>
<line x1="45.50" y1="492.50" x2="54.50" y2="492.50" stroke="#3a3a3a" stroke-width="1"/>
<text x="42.60" y="496.60" font-size="11" text-anchor="end" fill="#1a1a1a" stroke="#1a1a1a" stroke-width="0.3">40</text>
<line x1="45.50" y1="537.83" x2="54.50" y2="537.83" stroke="#3a3a3a" stroke-width="1"/>
<text x="42.60" y="541.93" font-size="11" text-anchor="end" fill="#1a1a1a" stroke="#1a1a1a" stroke-width="0.3">30</text>
<line x1="45.50" y1="583.17" x2="54.50" y2="583.17" stroke="#3a3a3a" stroke-width="1"/>
<text x="42.60" y="587.27" font-size="11" text-anchor="end" fill="#1a1a1a" stroke="#1a1a1a" stroke-width="0.3">20</text>
<line x1="45.50" y1="628.50" x2="54.50" y2="628.50" stroke="#3a3a3a" stroke-width="1"/>
<text x="42.60" y="632.60" font-size="11" text-anchor="end" fill="#1a1a1a" stroke="#1a1a1a" stroke-width="0.3">10</text>
<text x="58.80" y="371.60" font-size="16" text-anchor="start" font-weight="normal" fill="#333" >c)</text>
<text transform="translate(17.20,491.50) rotate(-90)" font-size="15" font-weight="bold" text-anchor="middle" fill="#222">T<tspan font-size="7.6" font-style="italic" dy="3.2">Δ47</tspan><tspan font-size="7.6" dy="0">-carb</tspan><tspan dy="-3.2"> (°C)</tspan></text>
<text x="190.40" y="672.30" font-size="15" font-weight="bold" text-anchor="middle" fill="#222"><tspan dy="0">δ</tspan><tspan font-size="7.5" font-weight="normal" dy="-6.2">13</tspan><tspan dy="6.2">C</tspan><tspan font-size="7.4" dy="3.0">carb</tspan><tspan dy="-3.0"> (‰, VPDB)</tspan></text>
<rect x="409.70" y="487.00" width="99.20" height="25.80" fill="#FDF4D6"/>
<rect x="508.90" y="513.30" width="172.60" height="35.50" fill="#DFC4B7"/>
<rect x="409.70" y="494.10" width="99.20" height="3.50" fill="#FFCC00"/>
<rect x="508.90" y="518.40" width="172.60" height="3.40" fill="#D0672F"/>
<rect x="477.00" y="356.40" width="3.40" height="272.10" fill="#FFCC00"/>
<rect x="603.60" y="356.40" width="3.40" height="272.10" fill="#D0672F"/>
<line x1="475.50" y1="369.20" x2="475.50" y2="450.60" stroke="#2a2a2a" stroke-width="1"/>
<line x1="492.50" y1="371.90" x2="492.50" y2="477.00" stroke="#2a2a2a" stroke-width="1"/>
<line x1="484.50" y1="417.70" x2="484.50" y2="484.00" stroke="#2a2a2a" stroke-width="1"/>
<line x1="488.50" y1="479.50" x2="497.70" y2="479.50" stroke="#2a2a2a" stroke-width="1"/>
<line x1="492.50" y1="485.00" x2="492.50" y2="512.00" stroke="#2a2a2a" stroke-width="1"/>
<line x1="488.00" y1="485.50" x2="498.60" y2="485.50" stroke="#2a2a2a" stroke-width="1"/>
<line x1="470.50" y1="453.80" x2="470.50" y2="524.00" stroke="#8a8a8a" stroke-width="1.3"/>
<line x1="477.50" y1="453.00" x2="477.50" y2="540.00" stroke="#7d6e25" stroke-width="1"/>
<line x1="482.50" y1="462.00" x2="482.50" y2="545.80" stroke="#2a2a2a" stroke-width="1"/>
<line x1="476.50" y1="460.00" x2="476.50" y2="540.60" stroke="#7d6e25" stroke-width="1"/>
<line x1="485.50" y1="470.00" x2="485.50" y2="533.90" stroke="#2a2a2a" stroke-width="1"/>
<line x1="479.50" y1="470.00" x2="479.50" y2="524.00" stroke="#7d6e25" stroke-width="1"/>
<line x1="472.50" y1="475.00" x2="472.50" y2="531.00" stroke="#2a2a2a" stroke-width="1"/>
<line x1="476.50" y1="490.00" x2="476.50" y2="540.60" stroke="#7d6e25" stroke-width="1"/>
<line x1="464.50" y1="483.50" x2="464.50" y2="534.00" stroke="#2a2a2a" stroke-width="1"/>
<line x1="468.50" y1="500.00" x2="468.50" y2="557.00" stroke="#8a8a8a" stroke-width="1.3"/>
<line x1="460.00" y1="519.50" x2="465.00" y2="519.50" stroke="#8a8a8a" stroke-width="1.3"/>
<line x1="475.50" y1="505.00" x2="475.50" y2="530.00" stroke="#2a2a2a" stroke-width="1"/>
<line x1="483.50" y1="505.00" x2="483.50" y2="543.70" stroke="#2a2a2a" stroke-width="1"/>
<line x1="483.80" y1="517.50" x2="492.60" y2="517.50" stroke="#2a2a2a" stroke-width="1"/>
<line x1="480.50" y1="505.00" x2="480.50" y2="545.80" stroke="#2a2a2a" stroke-width="1"/>
<line x1="465.50" y1="515.00" x2="465.50" y2="558.20" stroke="#2a2a2a" stroke-width="1"/>
<line x1="450.10" y1="531.50" x2="480.20" y2="531.50" stroke="#2a2a2a" stroke-width="1"/>
<line x1="519.50" y1="405.80" x2="519.50" y2="472.50" stroke="#2a2a2a" stroke-width="1"/>
<line x1="531.50" y1="385.00" x2="531.50" y2="464.80" stroke="#2a2a2a" stroke-width="1"/>
<line x1="616.50" y1="407.10" x2="616.50" y2="480.20" stroke="#2a2a2a" stroke-width="1"/>
<line x1="608.50" y1="443.50" x2="623.80" y2="443.50" stroke="#2a2a2a" stroke-width="1"/>
<line x1="526.50" y1="464.80" x2="526.50" y2="548.00" stroke="#8a8a8a" stroke-width="1.3"/>
<line x1="528.50" y1="495.00" x2="528.50" y2="568.00" stroke="#2a2a2a" stroke-width="1"/>
<line x1="522.00" y1="529.50" x2="534.00" y2="529.50" stroke="#2a2a2a" stroke-width="1"/>
<line x1="604.50" y1="476.00" x2="604.50" y2="540.00" stroke="#2a2a2a" stroke-width="1"/>
<line x1="607.50" y1="480.00" x2="607.50" y2="545.00" stroke="#8a8a8a" stroke-width="1.3"/>
<line x1="599.50" y1="511.50" x2="614.30" y2="511.50" stroke="#8a8a8a" stroke-width="1.3"/>
<line x1="612.50" y1="490.00" x2="612.50" y2="548.00" stroke="#2a2a2a" stroke-width="1"/>
<line x1="610.50" y1="495.00" x2="610.50" y2="550.00" stroke="#8a8a8a" stroke-width="1.3"/>
<line x1="647.50" y1="492.40" x2="647.50" y2="546.90" stroke="#2a2a2a" stroke-width="1"/>
<line x1="616.50" y1="520.00" x2="616.50" y2="570.40" stroke="#2a2a2a" stroke-width="1"/>
<line x1="572.50" y1="527.30" x2="572.50" y2="575.30" stroke="#2a2a2a" stroke-width="1"/>
<line x1="565.20" y1="551.50" x2="579.80" y2="551.50" stroke="#2a2a2a" stroke-width="1"/>
<line x1="589.50" y1="533.00" x2="589.50" y2="592.40" stroke="#2a2a2a" stroke-width="1"/>
<line x1="583.90" y1="562.50" x2="594.00" y2="562.50" stroke="#2a2a2a" stroke-width="1"/>
<line x1="605.50" y1="531.40" x2="605.50" y2="585.90" stroke="#8a8a8a" stroke-width="1.3"/>
<line x1="598.50" y1="558.50" x2="612.40" y2="558.50" stroke="#8a8a8a" stroke-width="1.3"/>
<line x1="609.50" y1="555.00" x2="609.50" y2="622.40" stroke="#2a2a2a" stroke-width="1"/>
<circle cx="475.40" cy="410.10" r="3.55" fill="#FFCC00" stroke="#111" stroke-width="0.95"/>
<circle cx="492.30" cy="414.10" r="3.55" fill="#FFCC00" stroke="#111" stroke-width="0.95"/>
<circle cx="484.70" cy="457.60" r="3.55" fill="#FFCC00" stroke="#111" stroke-width="0.95"/>
<circle cx="492.10" cy="479.90" r="3.55" fill="#FFCC00" stroke="#111" stroke-width="0.95"/>
<circle cx="492.10" cy="485.10" r="3.55" fill="#FFCC00" stroke="#111" stroke-width="0.95"/>
<circle cx="470.20" cy="488.20" r="3.55" fill="#FFCC00" stroke="#111" stroke-width="0.95"/>
<circle cx="477.90" cy="487.20" r="3.55" fill="#FFCC00" stroke="#111" stroke-width="0.95"/>
<circle cx="482.20" cy="487.50" r="3.55" fill="#FFCC00" stroke="#111" stroke-width="0.95"/>
<circle cx="476.90" cy="493.10" r="3.55" fill="#FFCC00" stroke="#111" stroke-width="0.95"/>
<circle cx="485.80" cy="492.80" r="3.55" fill="#FFCC00" stroke="#111" stroke-width="0.95"/>
<circle cx="479.10" cy="499.60" r="3.55" fill="#FFCC00" stroke="#111" stroke-width="0.95"/>
<circle cx="472.30" cy="503.20" r="3.55" fill="#FFCC00" stroke="#111" stroke-width="0.95"/>
<circle cx="476.70" cy="509.10" r="3.55" fill="#FFCC00" stroke="#111" stroke-width="0.95"/>
<circle cx="464.30" cy="512.10" r="3.55" fill="#FFCC00" stroke="#111" stroke-width="0.95"/>
<circle cx="468.00" cy="519.80" r="3.55" fill="#FFCC00" stroke="#111" stroke-width="0.95"/>
<circle cx="475.70" cy="518.60" r="3.55" fill="#FFCC00" stroke="#111" stroke-width="0.95"/>
<circle cx="483.40" cy="517.60" r="3.55" fill="#FFCC00" stroke="#111" stroke-width="0.95"/>
<circle cx="480.50" cy="521.80" r="3.55" fill="#FFCC00" stroke="#111" stroke-width="0.95"/>
<circle cx="465.40" cy="531.20" r="3.55" fill="#FFCC00" stroke="#111" stroke-width="0.95"/>
<circle cx="519.40" cy="438.80" r="3.55" fill="#D0672F" stroke="#111" stroke-width="0.95"/>
<circle cx="531.20" cy="424.80" r="3.55" fill="#D0672F" stroke="#111" stroke-width="0.95"/>
<circle cx="616.30" cy="443.70" r="3.55" fill="#D0672F" stroke="#111" stroke-width="0.95"/>
<circle cx="526.60" cy="507.50" r="3.55" fill="#D0672F" stroke="#111" stroke-width="0.95"/>
<circle cx="528.30" cy="529.20" r="3.55" fill="#D0672F" stroke="#111" stroke-width="0.95"/>
<circle cx="604.90" cy="503.30" r="3.55" fill="#D0672F" stroke="#111" stroke-width="0.95"/>
<circle cx="607.00" cy="511.40" r="3.55" fill="#D0672F" stroke="#111" stroke-width="0.95"/>
<circle cx="612.00" cy="519.60" r="3.55" fill="#D0672F" stroke="#111" stroke-width="0.95"/>
<circle cx="610.50" cy="523.80" r="3.55" fill="#D0672F" stroke="#111" stroke-width="0.95"/>
<circle cx="647.20" cy="519.90" r="3.55" fill="#D0672F" stroke="#111" stroke-width="0.95"/>
<circle cx="616.70" cy="546.30" r="3.55" fill="#D0672F" stroke="#111" stroke-width="0.95"/>
<circle cx="572.50" cy="551.20" r="3.55" fill="#D0672F" stroke="#111" stroke-width="0.95"/>
<circle cx="589.10" cy="562.80" r="3.55" fill="#D0672F" stroke="#111" stroke-width="0.95"/>
<circle cx="605.50" cy="558.70" r="3.55" fill="#D0672F" stroke="#111" stroke-width="0.95"/>
<circle cx="609.10" cy="580.50" r="3.55" fill="#D0672F" stroke="#111" stroke-width="0.95"/>
<text x="413.00" y="492.50" font-size="8.5" text-anchor="start" font-weight="bold" fill="#A8890B" >Q<tspan font-size="5" dy="1.5">2</tspan><tspan dy="-1.5"> = 39.2 °C</tspan></text>
<text x="631.50" y="532.60" font-size="8.5" text-anchor="start" font-weight="bold" fill="#D0672F" >Q<tspan font-size="5" dy="1.5">2</tspan><tspan dy="-1.5"> = 33.9 °C</tspan></text>
<text x="427.00" y="579.00" font-size="11.5" text-anchor="start" font-weight="bold" fill="#A8890B" >PETM</text>
<line x1="436.20" y1="565.20" x2="449.50" y2="552.80" stroke="#A8890B" stroke-width="2.4"/>
<path d="M455.4,547.3 L443.6,551.3 L451.6,558.9 Z" fill="#A8890B"/>
<text x="625.80" y="464.60" font-size="11.3" text-anchor="start" font-weight="bold" fill="#BA5F30" >late</text>
<text x="625.80" y="477.50" font-size="11.3" text-anchor="start" font-weight="bold" fill="#BA5F30" >Paleocene</text>
<line x1="630.30" y1="483.30" x2="620.00" y2="498.30" stroke="#BA5F30" stroke-width="2.4"/>
<path d="M615.3,505.4 L615.8,493.5 L625.2,499.6 Z" fill="#BA5F30"/>
<text transform="translate(490.5,590) rotate(-90)" font-size="11.4" font-weight="bold" text-anchor="middle" fill="#A8890B" stroke="#A8890B" stroke-width="0.25">Q<tspan font-size="6" dy="2">2</tspan><tspan dy="-2"> = -5.99 ‰</tspan></text>
<text transform="translate(601.4,595.2) rotate(-90)" font-size="11.4" font-weight="bold" text-anchor="middle" fill="#D0672F" stroke="#D0672F" stroke-width="0.25">Q<tspan font-size="6" dy="2">2</tspan><tspan dy="-2"> = -4.59 ‰</tspan></text>
<rect x="409.50" y="356.50" width="272.00" height="272.00" fill="none" stroke="#3a3a3a" stroke-width="1"/>
<line x1="409.50" y1="628.50" x2="409.50" y2="633.00" stroke="#3a3a3a" stroke-width="1"/>
<line x1="432.17" y1="628.50" x2="432.17" y2="633.00" stroke="#3a3a3a" stroke-width="1"/>
<line x1="454.83" y1="628.50" x2="454.83" y2="633.00" stroke="#3a3a3a" stroke-width="1"/>
<line x1="477.50" y1="628.50" x2="477.50" y2="633.00" stroke="#3a3a3a" stroke-width="1"/>
<line x1="500.17" y1="628.50" x2="500.17" y2="633.00" stroke="#3a3a3a" stroke-width="1"/>
<line x1="522.83" y1="628.50" x2="522.83" y2="633.00" stroke="#3a3a3a" stroke-width="1"/>
<line x1="545.50" y1="628.50" x2="545.50" y2="633.00" stroke="#3a3a3a" stroke-width="1"/>
<line x1="568.17" y1="628.50" x2="568.17" y2="633.00" stroke="#3a3a3a" stroke-width="1"/>
<line x1="590.83" y1="628.50" x2="590.83" y2="633.00" stroke="#3a3a3a" stroke-width="1"/>
<line x1="613.50" y1="628.50" x2="613.50" y2="633.00" stroke="#3a3a3a" stroke-width="1"/>
<line x1="636.17" y1="628.50" x2="636.17" y2="633.00" stroke="#3a3a3a" stroke-width="1"/>
<line x1="658.83" y1="628.50" x2="658.83" y2="633.00" stroke="#3a3a3a" stroke-width="1"/>
<line x1="681.50" y1="628.50" x2="681.50" y2="633.00" stroke="#3a3a3a" stroke-width="1"/>
<line x1="432.17" y1="628.50" x2="432.17" y2="637.50" stroke="#3a3a3a" stroke-width="1"/>
<text x="431.37" y="649.90" font-size="11" text-anchor="middle" fill="#1a1a1a" stroke="#1a1a1a" stroke-width="0.3">-6.5</text>
<line x1="477.50" y1="628.50" x2="477.50" y2="637.50" stroke="#3a3a3a" stroke-width="1"/>
<text x="476.70" y="649.90" font-size="11" text-anchor="middle" fill="#1a1a1a" stroke="#1a1a1a" stroke-width="0.3">-6</text>
<line x1="522.83" y1="628.50" x2="522.83" y2="637.50" stroke="#3a3a3a" stroke-width="1"/>
<text x="522.03" y="649.90" font-size="11" text-anchor="middle" fill="#1a1a1a" stroke="#1a1a1a" stroke-width="0.3">-5.5</text>
<line x1="568.17" y1="628.50" x2="568.17" y2="637.50" stroke="#3a3a3a" stroke-width="1"/>
<text x="567.37" y="649.90" font-size="11" text-anchor="middle" fill="#1a1a1a" stroke="#1a1a1a" stroke-width="0.3">-5</text>
<line x1="613.50" y1="628.50" x2="613.50" y2="637.50" stroke="#3a3a3a" stroke-width="1"/>
<text x="612.70" y="649.90" font-size="11" text-anchor="middle" fill="#1a1a1a" stroke="#1a1a1a" stroke-width="0.3">-4.5</text>
<line x1="658.83" y1="628.50" x2="658.83" y2="637.50" stroke="#3a3a3a" stroke-width="1"/>
<text x="658.03" y="649.90" font-size="11" text-anchor="middle" fill="#1a1a1a" stroke="#1a1a1a" stroke-width="0.3">-4</text>
<line x1="405.00" y1="356.50" x2="409.50" y2="356.50" stroke="#3a3a3a" stroke-width="1"/>
<line x1="405.00" y1="379.17" x2="409.50" y2="379.17" stroke="#3a3a3a" stroke-width="1"/>
<line x1="405.00" y1="401.83" x2="409.50" y2="401.83" stroke="#3a3a3a" stroke-width="1"/>
<line x1="405.00" y1="424.50" x2="409.50" y2="424.50" stroke="#3a3a3a" stroke-width="1"/>
<line x1="405.00" y1="447.17" x2="409.50" y2="447.17" stroke="#3a3a3a" stroke-width="1"/>
<line x1="405.00" y1="469.83" x2="409.50" y2="469.83" stroke="#3a3a3a" stroke-width="1"/>
<line x1="405.00" y1="492.50" x2="409.50" y2="492.50" stroke="#3a3a3a" stroke-width="1"/>
<line x1="405.00" y1="515.17" x2="409.50" y2="515.17" stroke="#3a3a3a" stroke-width="1"/>
<line x1="405.00" y1="537.83" x2="409.50" y2="537.83" stroke="#3a3a3a" stroke-width="1"/>
<line x1="405.00" y1="560.50" x2="409.50" y2="560.50" stroke="#3a3a3a" stroke-width="1"/>
<line x1="405.00" y1="583.17" x2="409.50" y2="583.17" stroke="#3a3a3a" stroke-width="1"/>
<line x1="405.00" y1="605.83" x2="409.50" y2="605.83" stroke="#3a3a3a" stroke-width="1"/>
<line x1="405.00" y1="628.50" x2="409.50" y2="628.50" stroke="#3a3a3a" stroke-width="1"/>
<line x1="400.50" y1="356.50" x2="409.50" y2="356.50" stroke="#3a3a3a" stroke-width="1"/>
<text x="397.60" y="360.60" font-size="11" text-anchor="end" fill="#1a1a1a" stroke="#1a1a1a" stroke-width="0.3">70</text>
<line x1="400.50" y1="401.83" x2="409.50" y2="401.83" stroke="#3a3a3a" stroke-width="1"/>
<text x="397.60" y="405.93" font-size="11" text-anchor="end" fill="#1a1a1a" stroke="#1a1a1a" stroke-width="0.3">60</text>
<line x1="400.50" y1="447.17" x2="409.50" y2="447.17" stroke="#3a3a3a" stroke-width="1"/>
<text x="397.60" y="451.27" font-size="11" text-anchor="end" fill="#1a1a1a" stroke="#1a1a1a" stroke-width="0.3">50</text>
<line x1="400.50" y1="492.50" x2="409.50" y2="492.50" stroke="#3a3a3a" stroke-width="1"/>
<text x="397.60" y="496.60" font-size="11" text-anchor="end" fill="#1a1a1a" stroke="#1a1a1a" stroke-width="0.3">40</text>
<line x1="400.50" y1="537.83" x2="409.50" y2="537.83" stroke="#3a3a3a" stroke-width="1"/>
<text x="397.60" y="541.93" font-size="11" text-anchor="end" fill="#1a1a1a" stroke="#1a1a1a" stroke-width="0.3">30</text>
<line x1="400.50" y1="583.17" x2="409.50" y2="583.17" stroke="#3a3a3a" stroke-width="1"/>
<text x="397.60" y="587.27" font-size="11" text-anchor="end" fill="#1a1a1a" stroke="#1a1a1a" stroke-width="0.3">20</text>
<line x1="400.50" y1="628.50" x2="409.50" y2="628.50" stroke="#3a3a3a" stroke-width="1"/>
<text x="397.60" y="632.60" font-size="11" text-anchor="end" fill="#1a1a1a" stroke="#1a1a1a" stroke-width="0.3">10</text>
<text x="414.00" y="371.60" font-size="16" text-anchor="start" font-weight="normal" fill="#333" >d)</text>
<text transform="translate(373.20,491.20) rotate(-90)" font-size="15" font-weight="bold" text-anchor="middle" fill="#222">T<tspan font-size="7.6" font-style="italic" dy="3.2">Δ47</tspan><tspan font-size="7.6" dy="0">-carb</tspan><tspan dy="-3.2"> (°C)</tspan></text>
<text x="547.00" y="672.30" font-size="15" font-weight="bold" text-anchor="middle" fill="#222"><tspan dy="0">δ</tspan><tspan font-size="7.5" font-weight="normal" dy="-6.2">18</tspan><tspan dy="6.2">O</tspan><tspan font-size="7.4" dy="3.0">carb</tspan><tspan dy="-3.0"> (‰, VPDB)</tspan></text>
</svg>
</body></html>
